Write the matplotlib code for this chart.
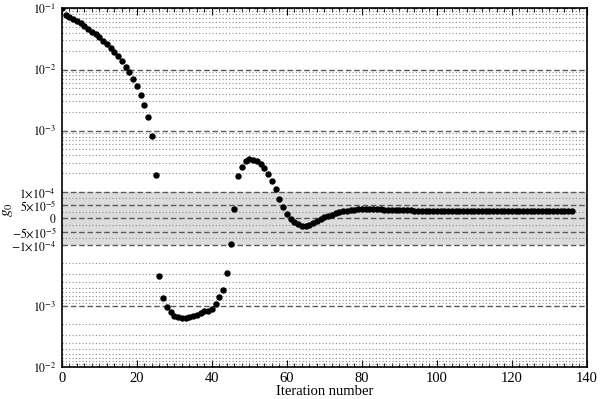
import matplotlib
matplotlib.use("Agg")
import matplotlib.pyplot as plt
import numpy as np

plt.rcParams['font.family'] = ['Liberation Serif', 'DejaVu Serif']
plt.rcParams['mathtext.fontset'] = 'stix'

# g0, one value per iteration (0..136)
g0 = [
    0.1, 0.0782, 0.0726, 0.0673, 0.0624, 0.0578, 0.0522, 0.0461, 0.0417, 0.0378,
    0.0341, 0.0297, 0.0265, 0.0223, 0.0196, 0.0166, 0.0136, 0.0111, 0.0090, 0.00698,
    0.0053, 0.00382, 0.00262, 0.00165, 0.00082, 1.86e-4, -3.2e-4, -7.4e-4, -1.06e-3, -1.28e-3,
    -1.45e-3, -1.54e-3, -1.58e-3, -1.58e-3, -1.54e-3, -1.47e-3, -1.40e-3, -1.30e-3, -1.23e-3, -1.19e-3,
    -1.12e-3, -9.2e-4, -7.2e-4, -5.4e-4, -2.9e-4, -9.7e-5, 3.4e-5, 1.82e-4, 2.59e-4, 3.2e-4,
    3.41e-4, 3.37e-4, 3.16e-4, 2.82e-4, 2.43e-4, 1.94e-4, 1.53e-4, 1.10e-4, 7.2e-5, 4.2e-5,
    1.5e-5, -2e-6, -1.4e-5, -2.3e-5, -2.8e-5, -2.9e-5, -2.45e-5, -1.8e-5, -1.06e-5, -3e-6,
    3.4e-6, 8.3e-6, 1.32e-5, 1.85e-5, 2.23e-5, 2.6e-5, 2.83e-5, 3.09e-5, 3.2e-5, 3.36e-5,
    3.4e-5, 3.45e-5, 3.45e-5, 3.45e-5, 3.4e-5, 3.35e-5, 3.3e-5, 3.25e-5, 3.2e-5, 3.15e-5,
    3.1e-5, 3.05e-5, 3.0e-5, 2.95e-5, 2.9e-5, 2.85e-5, 2.8e-5, 2.8e-5, 2.75e-5, 2.75e-5,
    2.7e-5, 2.7e-5, 2.7e-5, 2.7e-5, 2.7e-5, 2.65e-5, 2.65e-5, 2.65e-5, 2.65e-5, 2.65e-5,
    2.65e-5, 2.65e-5, 2.6e-5, 2.6e-5, 2.6e-5, 2.6e-5, 2.6e-5, 2.6e-5, 2.6e-5, 2.6e-5,
    2.6e-5, 2.6e-5, 2.6e-5, 2.6e-5, 2.6e-5, 2.6e-5, 2.6e-5, 2.6e-5, 2.6e-5, 2.6e-5,
    2.6e-5, 2.6e-5, 2.6e-5, 2.6e-5, 2.6e-5, 2.6e-5, 2.6e-5,
]
iters = np.arange(len(g0))

yticks = [1e-1, 1e-2, 1e-3, 1e-4, 5e-5, 0, -5e-5, -1e-4, -1e-3, -1e-2]
ytick_labels = ['$10^{-1}$', '$10^{-2}$', '$10^{-3}$', r'$1{\times}10^{-4}$', r'$5{\times}10^{-5}$',
                '$0$', r'$-5{\times}10^{-5}$', r'$-1{\times}10^{-4}$', '$10^{-3}$', '$10^{-2}$']
band = 1e-4

minor_pos = [m * 10.0 ** e for e in (-4, -3, -2) for m in range(2, 10)]
minor_neg = [-m * 10.0 ** e for e in (-4, -3) for m in range(2, 10)]
minor_lin = [2.5e-5, 7.5e-5, -2.5e-5, -7.5e-5]

fig = plt.figure(figsize=(6, 3.99), dpi=100)
ax = fig.add_axes([0.103, 0.080, 0.875, 0.899])

ax.set_yscale('symlog', linthresh=1e-4, linscale=0.39)

ax.axhspan(-band, band, color='#dcdcdc', zorder=0, lw=0)

ax.set_yticks(yticks)
ax.set_yticklabels(ytick_labels)
ax.set_yticks(minor_pos + minor_neg + minor_lin, minor=True)
ax.set_xticks(np.arange(0, 141, 20))
ax.set_xticks(np.arange(0, 141, 2), minor=True)

ax.grid(True, axis='y', which='major', color='0.35', linestyle=(0, (4, 2)), lw=1.0, zorder=1)
ax.grid(True, axis='y', which='minor', color='0.55', linestyle=(0, (1, 2)), lw=0.8, zorder=1)
ax.set_axisbelow(True)

ax.plot(iters, g0, 'o', color='black', markersize=3.6, zorder=3)

ax.set_ylim(-1e-2, 1e-1)
ax.set_xlim(0, 140)

ax.tick_params(axis='y', which='both', length=0, pad=4, labelsize=8.5)
ax.tick_params(axis='x', which='both', direction='in', top=True, labelsize=10.5)
ax.tick_params(axis='x', which='major', length=5)
ax.tick_params(axis='x', which='minor', length=3)

for s in ax.spines.values():
    s.set_linewidth(1.2)

ax.set_xlabel('Iteration number', fontsize=10.5, labelpad=0)
ax.set_ylabel('$g_0$', fontsize=11)
ax.yaxis.set_label_coords(-0.09, 0.44)

fig.savefig('out.png', dpi=100)
